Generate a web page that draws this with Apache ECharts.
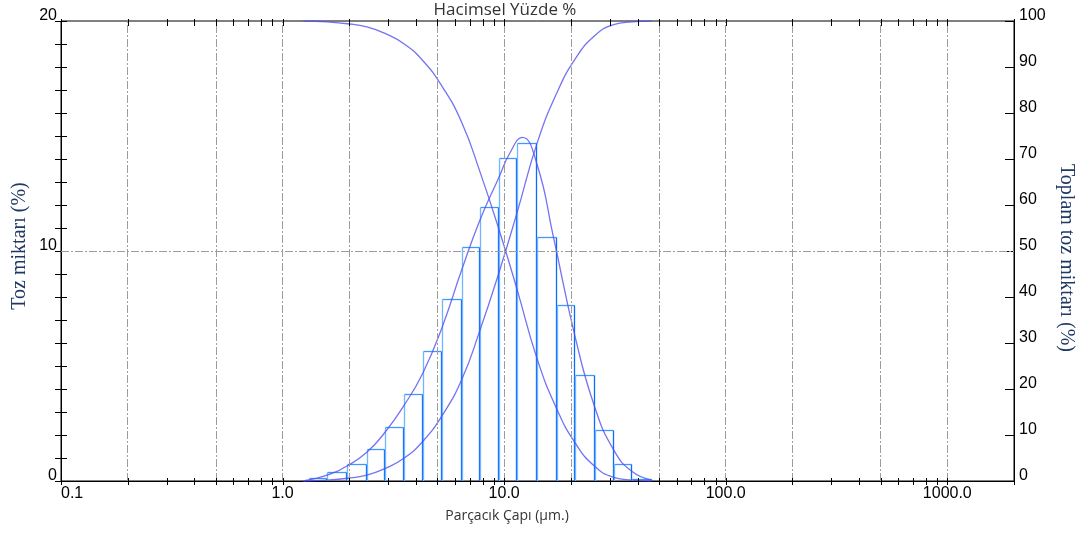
<!DOCTYPE html>
<html>
<head>
<meta charset="utf-8">
<script src="https://cdn.jsdelivr.net/npm/echarts@6/dist/echarts.min.js"></script>
<style>html,body{margin:0;padding:0;background:#fff}#c{width:1090px;height:533px}</style>
</head>
<body>
<div id="c"></div>
<script>
// ---- data ----
const binEdges = [1.32, 1.59, 1.96, 2.40, 2.90, 3.54, 4.31, 5.26, 6.43, 7.78, 9.50, 11.46, 14.10, 17.3, 20.9, 25.6, 31.2, 37.8, 46.3];
const binHeights = [0.14, 0.40, 0.72, 1.38, 2.35, 3.77, 5.64, 7.90, 10.19, 11.91, 14.06, 14.71, 10.59, 7.65, 4.61, 2.20, 0.74, 0.10];
const bellX = [1.24, 1.59, 1.96, 2.40, 2.90, 3.54, 4.31, 5.26, 6.43, 7.78, 9.50, 10.6, 12.07, 14.10, 16.7, 20.9, 25.6, 31.2, 37.8, 46.3];
const bellY = [0, 0.26, 0.66, 1.25, 2.12, 3.30, 4.72, 6.71, 9.17, 11.35, 13.23, 14.25, 14.94, 13.74, 10.59, 6.28, 3.23, 1.35, 0.41, 0.04];
const cumX = [1.24, 1.59, 1.96, 2.40, 2.90, 3.54, 4.31, 5.26, 6.43, 7.78, 9.50, 11.46, 14.10, 17.3, 20.9, 25.6, 31.2, 37.8, 46.3];
const cumUnder = [0, 0.2, 0.6, 1.3, 2.7, 5.0, 8.7, 14.3, 22.0, 32.8, 45.5, 58.5, 73.5, 84.4, 91.7, 96.8, 99.2, 99.8, 100];
const cumOver = [100, 99.8, 99.4, 98.7, 97.3, 95.0, 91.3, 85.7, 78.0, 67.2, 54.5, 41.5, 26.5, 15.6, 8.3, 3.2, 0.8, 0.2, 0];
const xTicks = [0.1,0.2,0.3,0.4,0.5,0.6,0.7,0.8,0.9,1,2,3,4,5,6,7,8,9,10,20,30,40,50,60,70,80,90,100,200,300,400,500,600,700,800,900,1000,2000];
const xGrid = [0.2,0.5,1,2,5,10,20,50,100,200,500,1000];
const yGridLeft = [10];

const histData = binHeights.map((h, i) => [binEdges[i], binEdges[i + 1], h]);
const bellData = bellX.map((x, i) => [x, bellY[i]]);
const underData = cumX.map((x, i) => [x, cumUnder[i]]);
const overData = cumX.map((x, i) => [x, cumOver[i]]);

const chart = echarts.init(document.getElementById('c'), null, {renderer: 'canvas'});
const tickFont = {fontFamily: 'Liberation Sans', fontSize: 16, color: '#000'};
const curveStyle = {color: '#5050f0', width: 1.3, opacity: 0.8};
const gridDash = {color: '#9c9c9c', width: 1, type: [8, 2, 2, 2]};

const option = {
  animation: false,
  grid: {left: 61, right: 76, top: 21, bottom: 52, show: true, borderColor: '#000', borderWidth: 1, backgroundColor: 'transparent'},
  xAxis: [{
    type: 'log', logBase: 10, min: 0.1, max: 2000,
    axisLine: {show: true, lineStyle: {color: '#000'}},
    axisTick: {show: false},
    splitLine: {show: false},
    axisLabel: Object.assign({}, tickFont, {
      margin: 5, hideOverlap: false, showMaxLabel: false, alignMinLabel: 'left',
      formatter: v => {
        const l = Math.log10(v);
        return Math.abs(l - Math.round(l)) < 1e-6 ? Math.pow(10, Math.round(l)).toFixed(1) : '';
      }
    })
  }],
  yAxis: [{
    type: 'value', position: 'left', min: 0, max: 20, interval: 1,
    axisLine: {show: true, lineStyle: {color: '#000'}},
    axisTick: {show: true, length: 6, lineStyle: {color: '#000'}},
    splitLine: {show: false},
    axisLabel: Object.assign({}, tickFont, {margin: 4, verticalAlign: 'bottom', lineHeight: 10, formatter: v => (v % 10 === 0 ? String(v) : '')})
  }, {
    type: 'value', position: 'right', min: 0, max: 100, interval: 10,
    axisLine: {show: true, lineStyle: {color: '#000'}},
    axisTick: {show: true, inside: true, length: 9, lineStyle: {color: '#000'}},
    splitLine: {show: false},
    axisLabel: Object.assign({}, tickFont, {margin: 5, verticalAlign: 'bottom', lineHeight: 10})
  }, {
    type: 'value', position: 'left', min: 0, max: 20, interval: 1,
    axisLine: {show: false},
    axisTick: {show: true, inside: true, length: 6, lineStyle: {color: '#000'}},
    splitLine: {show: false},
    axisLabel: {show: false}
  }],
  graphic: [
    {type: 'text', x: 505, y: 10, style: {text: 'Hacimsel Yüzde %', font: "17px 'Open Sans'", fill: '#333', align: 'center', verticalAlign: 'middle'}},
    {type: 'text', x: 507, y: 516, style: {text: 'Parçacık Çapı (µm.)', font: "14px 'Open Sans'", fill: '#333', align: 'center', verticalAlign: 'middle'}},
    {type: 'text', x: 20, y: 246, rotation: Math.PI / 2, style: {text: 'Toz miktarı (%)', font: "20px 'Liberation Serif'", fill: '#1f3864', align: 'center', verticalAlign: 'middle'}},
    {type: 'text', x: 1066, y: 258, rotation: -Math.PI / 2, style: {text: 'Toplam toz miktarı (%)', font: "20px 'Liberation Serif'", fill: '#1f3864', align: 'center', verticalAlign: 'middle'}}
  ],
  series: [{
    type: 'line', name: 'grid', xAxisIndex: 0, yAxisIndex: 0, z: 1,
    data: [[0.1, 0]], symbol: 'none', lineStyle: {width: 0}, silent: true,
    markLine: {
      silent: true, symbol: ['none', 'none'], label: {show: false}, animation: false,
      lineStyle: gridDash,
      emphasis: {disabled: true},
      data: xGrid.map(v => ({xAxis: v})).concat(yGridLeft.map(v => ({yAxis: v})))
    }
  }, {
    type: 'custom', name: 'ticks', xAxisIndex: 0, yAxisIndex: 0, z: 5, silent: true,
    data: xTicks.map(v => [v]),
    encode: {x: 0},
    renderItem: (params, api) => {
      const v = api.value(0);
      const pb = api.coord([v, 0]);
      const pt = api.coord([v, 20]);
      const x = Math.round(pb[0]) + 0.5;
      return {type: 'group', children: [
        {type: 'line', shape: {x1: x, y1: pb[1] - 3, x2: x, y2: pb[1] + 4}, style: {stroke: '#000', lineWidth: 1}},
        {type: 'line', shape: {x1: x, y1: pt[1] - 2, x2: x, y2: pt[1] + 5}, style: {stroke: '#000', lineWidth: 1}}
      ]};
    }
  }, {
    type: 'custom', name: 'hist', xAxisIndex: 0, yAxisIndex: 0, z: 2, silent: true,
    data: histData,
    encode: {x: [0, 1], y: 2},
    renderItem: (params, api) => {
      const x0 = api.value(0), x1 = api.value(1), h = api.value(2);
      const pbl = api.coord([x0, 0]);
      const ptr = api.coord([x1, h]);
      const l = Math.round(pbl[0]) + 0.5, r = Math.round(ptr[0]) - 0.5;
      const b = pbl[1], t = Math.round(ptr[1]) + 0.5;
      return {type: 'group', children: [
        {type: 'polyline', shape: {points: [[l, t], [r, t]]}, style: {stroke: '#3f97ff', lineWidth: 1.3, fill: null}},
        {type: 'polyline', shape: {points: [[r, t], [r, b]]}, style: {stroke: '#0a6cff', lineWidth: 1.3, fill: null}},
        {type: 'polyline', shape: {points: [[l, b], [l, t]]}, style: {stroke: '#6fb6ff', lineWidth: 1.3, fill: null}}
      ]};
    }
  }, {
    type: 'line', name: 'bell', xAxisIndex: 0, yAxisIndex: 0, z: 3,
    data: bellData, symbol: 'none', smooth: 0.5, lineStyle: curveStyle
  }, {
    type: 'line', name: 'under', xAxisIndex: 0, yAxisIndex: 1, z: 3,
    data: underData, symbol: 'none', smooth: 0.5, lineStyle: curveStyle
  }, {
    type: 'line', name: 'over', xAxisIndex: 0, yAxisIndex: 1, z: 3,
    data: overData, symbol: 'none', smooth: 0.5, lineStyle: curveStyle
  }]
};
chart.setOption(option);
</script>
</body>
</html>
